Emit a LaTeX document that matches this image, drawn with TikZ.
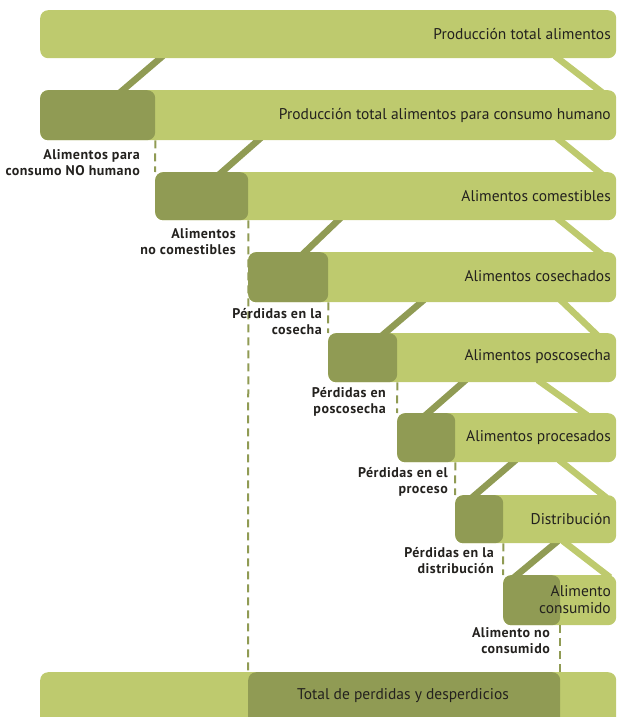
\documentclass[tikz,border=0pt]{standalone}
\usepackage{fontspec}
\setmainfont{PT Sans}
\usepackage{xcolor}
\usetikzlibrary{backgrounds}
\definecolor{verdeclaro}{RGB}{190,202,110}
\definecolor{verdeoscuro}{RGB}{144,155,84}
\definecolor{texto}{RGB}{35,33,30}
\tikzset{
	barra/.style={fill=verdeclaro,rounded corners=8pt,inner sep=0pt,anchor=north west},
	caja/.style={fill=verdeoscuro,rounded corners=8pt,inner sep=0pt,anchor=north west},
	titulo/.style={font=\fontsize{15.5}{17}\selectfont,text=texto,align=right,anchor=east,inner sep=0pt},
	etiqueta/.style={font=\bfseries\fontsize{14}{16}\selectfont\addfontfeature{LetterSpace=3.5},text=texto,align=right,anchor=east,inner sep=0pt},
	ramaizq/.style={verdeoscuro,line width=6.5pt,shorten <=-4pt,shorten >=-4pt},
	ramader/.style={verdeclaro,line width=6.5pt,shorten <=-4pt,shorten >=-4pt},
	guion/.style={verdeoscuro,line width=2pt,dash pattern=on 8pt off 5pt}
}
\begin{document}
\begin{tikzpicture}[x=1pt,y=-1pt]
	\useasboundingbox (0,0) rectangle (617,717);
	% barras
	\node[barra,minimum width=576pt,minimum height=48pt] (produccion) at (40,10) {};
	\node[barra,minimum width=576pt,minimum height=50pt] (humano) at (40,90) {};
	\node[barra,minimum width=461pt,minimum height=48pt] (comestibles) at (155,172) {};
	\node[barra,minimum width=368pt,minimum height=50pt] (cosechados) at (248,252) {};
	\node[barra,minimum width=288pt,minimum height=49pt] (poscosecha) at (328,333) {};
	\node[barra,minimum width=219pt,minimum height=49pt] (procesados) at (397,413) {};
	\node[barra,minimum width=161pt,minimum height=48pt] (distribucion) at (455,495) {};
	\node[barra,minimum width=113pt,minimum height=50pt] (consumido) at (503,575) {};
	\node[barra,minimum width=576pt,minimum height=54pt] (total) at (40,672) {};
	% perdidas
	\node[caja,minimum width=115pt,minimum height=50pt] (nohumano) at (40,90) {};
	\node[caja,minimum width=93pt,minimum height=48pt] (nocomestibles) at (155,172) {};
	\node[caja,minimum width=80pt,minimum height=50pt] (pcosecha) at (248,252) {};
	\node[caja,minimum width=69pt,minimum height=49pt] (pposcosecha) at (328,333) {};
	\node[caja,minimum width=58pt,minimum height=49pt] (pproceso) at (397,413) {};
	\node[caja,minimum width=48pt,minimum height=48pt] (pdistribucion) at (455,495) {};
	\node[caja,minimum width=57pt,minimum height=50pt] (noconsumido) at (503,575) {};
	\node[caja,minimum width=312pt,minimum height=54pt] (perdidas) at (248,672) {};
	% ramas
	\begin{scope}[on background layer]
		\draw[ramaizq] (160,0 |- produccion.south) -- (123,0 |- humano.north);
		\draw[ramader] (558,0 |- produccion.south) -- (599,0 |- humano.north);
		\draw[ramaizq] (258,0 |- humano.south) -- (222,0 |- comestibles.north);
		\draw[ramader] (560,0 |- humano.south) -- (599,0 |- comestibles.north);
		\draw[ramaizq] (338,0 |- comestibles.south) -- (305,0 |- cosechados.north);
		\draw[ramader] (560,0 |- comestibles.south) -- (599,0 |- cosechados.north);
		\draw[ramaizq] (421,0 |- cosechados.south) -- (385,0 |- poscosecha.north);
		\draw[ramader] (563,0 |- cosechados.south) -- (595,0 |- poscosecha.north);
		\draw[ramaizq] (463,0 |- poscosecha.south) -- (428,0 |- procesados.north);
		\draw[ramader] (541,0 |- poscosecha.south) -- (584,0 |- procesados.north);
		\draw[ramaizq] (513,0 |- procesados.south) -- (475,0 |- distribucion.north);
		\draw[ramader] (562,0 |- procesados.south) -- (603,0 |- distribucion.north);
		\draw[ramaizq] (555,0 |- distribucion.south) -- (517,0 |- consumido.north);
		\draw[ramader] (566,0 |- distribucion.south) -- (607,0 |- consumido.north);
	\end{scope}
	% lineas
	\draw[guion] (nohumano.south east) -- (nocomestibles.north west);
	\draw[guion] (nocomestibles.south east) -- (perdidas.north west);
	\draw[guion] (pcosecha.south east) -- (pposcosecha.north west);
	\draw[guion] (pposcosecha.south east) -- (pproceso.north west);
	\draw[guion] (pproceso.south east) -- (pdistribucion.north west);
	\draw[guion] (pdistribucion.south east) -- (noconsumido.north west);
	\draw[guion] (noconsumido.south east) -- (perdidas.north east);
	% textos
	\node[titulo] (tproduccion) at (611,34) {Producción total alimentos};
	\node[titulo] (thumano) at (611,115) {Producción total alimentos para consumo humano};
	\node[titulo] (tcomestibles) at (611,196) {Alimentos comestibles};
	\node[titulo] (tcosechados) at (611,276) {Alimentos cosechados};
	\node[titulo] (tposcosecha) at (611,357) {Alimentos poscosecha};
	\node[titulo] (tprocesados) at (611,438) {Alimentos procesados};
	\node[titulo] (tdistribucion) at (611,519) {Distribución};
	\node[titulo] (tconsumido) at (611,600) {Alimento\\consumido};
	\node[titulo,anchor=center] (tperdidas) at (403,696) {Total de perdidas y desperdicios};
	\node[etiqueta] (enohumano) at (140,163) {Alimentos para\\consumo NO humano};
	\node[etiqueta] (enocomestibles) at (236,242) {Alimentos\\no comestibles};
	\node[etiqueta] (epcosecha) at (322,322) {Pérdidas en la\\cosecha};
	\node[etiqueta] (epposcosecha) at (386,402) {Pérdidas en\\poscosecha};
	\node[etiqueta] (epproceso) at (448,482) {Pérdidas en el\\proceso};
	\node[etiqueta] (epdistribucion) at (494,561) {Pérdidas en la\\distribución};
	\node[etiqueta] (enoconsumido) at (550,641) {Alimento no\\consumido};
\end{tikzpicture}
\end{document}
